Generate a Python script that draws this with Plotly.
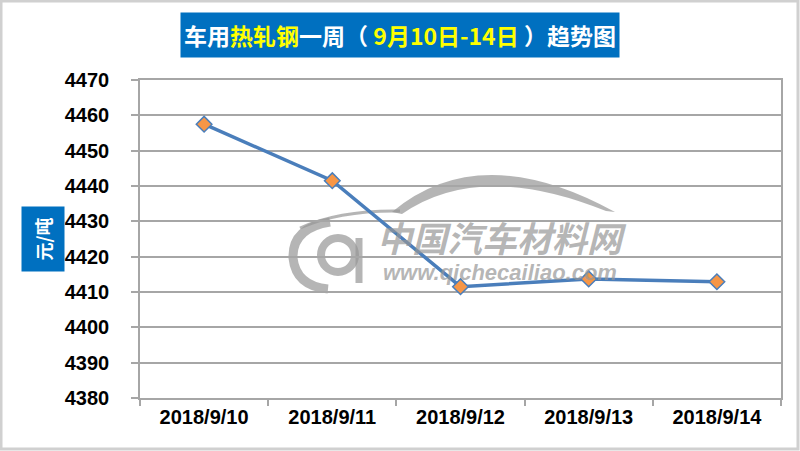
import plotly.graph_objects as go

dates = ["2018/9/10", "2018/9/11", "2018/9/12", "2018/9/13", "2018/9/14"]
prices = [4457.5, 4441.5, 4411.5, 4413.7, 4412.9]
y_ticks = [4380, 4390, 4400, 4410, 4420, 4430, 4440, 4450, 4460, 4470]

W, H = 800, 451
L, R, T, B = 140, 19, 80, 53
PW, PH = W - L - R, H - T - B

def px(x):
    return (x - L) / PW

def py(y):
    return (H - B - y) / PH

fig = go.Figure()
fig.add_trace(go.Scatter(
    x=dates, y=prices, mode="lines+markers",
    line=dict(color="#4A7EBB", width=3.5),
    marker=dict(symbol="diamond", size=12, color="#F79646",
                line=dict(color="#4A7EBB", width=1.5)),
    showlegend=False,
))

grid = "#A6A6A6"
fig.update_layout(
    width=W, height=H,
    margin=dict(l=L, r=R, t=T, b=B),
    paper_bgcolor="white", plot_bgcolor="rgba(0,0,0,0)",
    xaxis=dict(
        type="category", tickson="boundaries", ticks="outside", ticklen=6,
        tickcolor=grid, tickwidth=1.5, showgrid=False,
        showline=True, linecolor=grid, linewidth=1.5, mirror=True,
        tickfont=dict(family="Liberation Sans, Arial", size=20, color="black", weight="bold"),
        range=[-0.5, 4.5],
    ),
    yaxis=dict(
        range=[4380, 4470], tickvals=y_ticks, ticks="outside", ticklen=7,
        tickcolor=grid, tickwidth=1.5, showgrid=True, gridcolor=grid, gridwidth=1.5,
        showline=True, linecolor=grid, linewidth=1.5, mirror=True, zeroline=False,
        ticklabelstandoff=18,
        tickfont=dict(family="Liberation Sans, Arial", size=20, color="black", weight="bold"),
    ),
)

# outer frame
fig.add_shape(type="rect", xref="paper", yref="paper",
              x0=px(1), x1=px(798), y0=py(449), y1=py(1),
              line=dict(color="#D0D0D0", width=3), layer="below")

# watermark (logo)
wm = "rgba(150,150,150,0.7)"
fig.add_shape(type="path", xref="paper", yref="paper",
              path=f"M {px(392)},{py(212)} Q {px(480)},{py(138)} {px(615)},{py(212)} "
                   f"L {px(606)},{py(211)} Q {px(480)},{py(160)} {px(402)},{py(214)} Z",
              fillcolor=wm, line=dict(width=0), layer="below")
fig.add_shape(type="path", xref="paper", yref="paper",
              path=f"M {px(300)},{py(228)} Q {px(340)},{py(210)} {px(400)},{py(211)}",
              line=dict(color=wm, width=3), layer="below")
fig.add_shape(type="path", xref="paper", yref="paper",
              path=f"M {px(330)},{py(222)} Q {px(292)},{py(228)} {px(293)},{py(258)} Q {px(296)},{py(286)} {px(328)},{py(289)}",
              line=dict(color=wm, width=9), layer="below")
fig.add_shape(type="circle", xref="paper", yref="paper",
              x0=px(321), x1=px(355), y0=py(272), y1=py(238),
              line=dict(color=wm, width=8), layer="below")
fig.add_shape(type="line", xref="paper", yref="paper",
              x0=px(359), x1=px(359), y0=py(238), y1=py(283),
              line=dict(color=wm, width=7), layer="below")
fig.add_annotation(x=px(502), y=py(236), xref="paper", yref="paper", showarrow=False,
                   xanchor="center", yanchor="middle",
                   text="<b><i>中国汽车材料网</i></b>",
                   font=dict(family="Noto Sans CJK SC", size=35, color=wm))
fig.add_annotation(x=px(500), y=py(272), xref="paper", yref="paper", showarrow=False,
                   xanchor="center", yanchor="middle",
                   text="<b><i>www.qichecailiao.com</i></b>",
                   font=dict(family="Liberation Sans, Arial", size=22, color=wm))

# title box
fig.add_annotation(
    x=px(400), y=py(35), xref="paper", yref="paper", showarrow=False,
    xanchor="center", yanchor="middle",
    text="车用<span style='color:#FFFF00'>热轧钢</span>一周（ <span style='color:#FFFF00'>9月10日-14日</span> ）趋势图",
    font=dict(family="Noto Sans CJK SC", size=23, color="white", weight="bold"),
    bgcolor="#0070C0", width=434, height=40, borderpad=2,
)

# y-axis title box
fig.add_annotation(
    x=px(43), y=py(239), xref="paper", yref="paper", showarrow=False,
    xanchor="center", yanchor="middle",
    text="元/吨", textangle=-90,
    font=dict(family="Noto Sans CJK SC", size=18, color="white", weight="bold"),
    bgcolor="#0070C0", width=60, height=38, borderpad=2,
)

fig.write_html("out.html", config={"displayModeBar": False},
               post_script="document.body.style.margin='0';")
